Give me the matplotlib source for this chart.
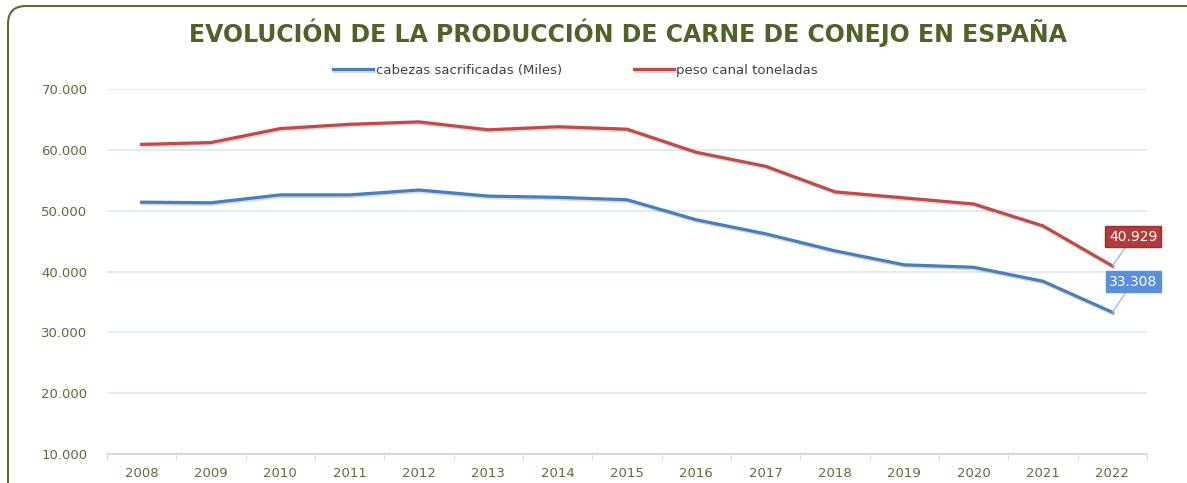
import matplotlib.pyplot as plt
import matplotlib.patheffects as pe
from matplotlib.patches import FancyBboxPatch
from matplotlib.ticker import FuncFormatter, FixedLocator

years = ['2008', '2009', '2010', '2011', '2012', '2013', '2014', '2015',
         '2016', '2017', '2018', '2019', '2020', '2021', '2022']
cabezas = [51400, 51300, 52600, 52600, 53400, 52400, 52200, 51800,
           48500, 46200, 43400, 41100, 40700, 38400, 33308]
peso = [60900, 61200, 63500, 64200, 64600, 63300, 63800, 63400,
        59600, 57300, 53100, 52100, 51100, 47500, 40929]

green = '#4f6228'
label_green = '#5e6b3f'
blue = '#4a7ebb'
red = '#be4b48'

fig = plt.figure(figsize=(11.87, 4.83), dpi=100)
ax = fig.add_axes([0.0901, 0.06, 0.8762, 0.7557])

# rounded frame (drawn in pixel coords)
frame = FancyBboxPatch((8, -40), 1250, 517, boxstyle='round,pad=0,rounding_size=18',
                       transform=None, fill=False, edgecolor='#5b6d34', linewidth=1.5)
fig.patches.append(frame)

x = list(range(len(years)))
shadow = [pe.SimpleLineShadow(offset=(0.8, -1.2), alpha=0.15, shadow_color='black'), pe.Normal()]
ax.plot(x, cabezas, color=blue, linewidth=2.3, label='cabezas sacrificadas (Miles)',
        path_effects=shadow, zorder=3)
ax.plot(x, peso, color=red, linewidth=2.3, label='peso canal toneladas',
        path_effects=shadow, zorder=3)

ax.set_xlim(-0.5, len(years) - 0.5)
ax.set_ylim(10000, 70000)
ax.set_yticks(range(10000, 70001, 10000))
ax.yaxis.set_major_formatter(FuncFormatter(lambda v, p: f'{int(v):,}'.replace(',', '.')))
ax.set_xticks(x)
ax.set_xticklabels(years)
ax.xaxis.set_minor_locator(FixedLocator([i - 0.5 for i in range(len(years) + 1)]))
ax.tick_params(axis='x', which='major', length=0, pad=9, labelsize=9.5, labelcolor=label_green)
ax.tick_params(axis='x', which='minor', length=4, color='#c5d5ea', direction='out')
ax.tick_params(axis='y', length=0, pad=14, labelsize=9.5, labelcolor=label_green)

ax.grid(axis='y', color='#dce6f4', linewidth=1.2)
ax.set_axisbelow(True)
for s in ['top', 'right', 'left']:
    ax.spines[s].set_visible(False)
ax.spines['bottom'].set_color('#c5d5ea')
ax.spines['bottom'].set_linewidth(1.2)

# value labels on last point
ax.annotate(f'{peso[-1]:,}'.replace(',', '.'), xy=(x[-1], peso[-1]), xytext=(x[-1] + 0.3, 45700),
            color='white', fontsize=10, ha='center', va='center',
            bbox=dict(boxstyle='square,pad=0.25', facecolor='#b33b3a', edgecolor='#9a3030'),
            arrowprops=dict(arrowstyle='-', color='#9dbbe3', linewidth=1, shrinkA=0, shrinkB=0))
ax.annotate(f'{cabezas[-1]:,}'.replace(',', '.'), xy=(x[-1], cabezas[-1]), xytext=(x[-1] + 0.3, 38300),
            color='white', fontsize=10, ha='center', va='center',
            bbox=dict(boxstyle='square,pad=0.25', facecolor='#5b8fd9', edgecolor='#5b8fd9'),
            arrowprops=dict(arrowstyle='-', color='#9dbbe3', linewidth=1, shrinkA=0, shrinkB=0))

fig.text(0.529, 0.933, 'EVOLUCIÓN DE LA PRODUCCIÓN DE CARNE DE CONEJO EN ESPAÑA',
         ha='center', va='center', fontsize=17, fontweight='bold', color=green,
         family='DejaVu Sans')

leg = fig.legend(loc='center', bbox_to_anchor=(0.485, 0.855), ncol=2, frameon=False,
                 fontsize=9.5, handlelength=3, columnspacing=5.5, handletextpad=0.2)
for t in leg.get_texts():
    t.set_color('#404040')

fig.savefig('out.png', dpi=100)
